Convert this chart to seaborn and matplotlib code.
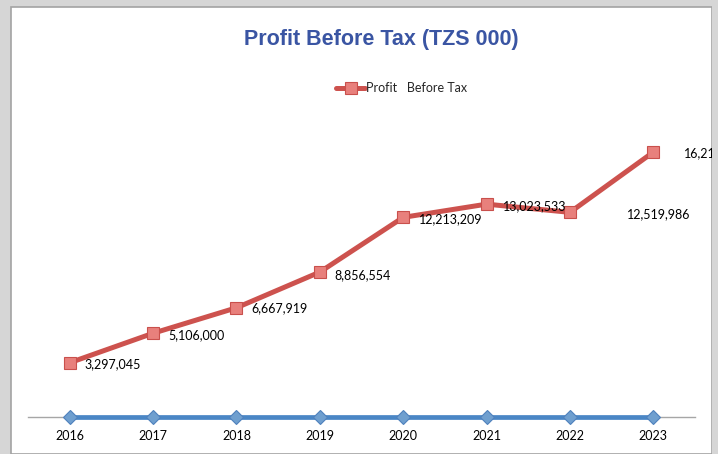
import seaborn as sns
from matplotlib import pyplot as plt
from matplotlib.patches import Rectangle
import pandas as pd

years = ['2016', '2017', '2018', '2019', '2020', '2021', '2022', '2023']
profit = [3297045, 5106000, 6667919, 8856554, 12213209, 13023533, 12519986, 16215000]
baseline = [0, 0, 0, 0, 0, 0, 0, 0]
legend_label = 'Profit   Before Tax'
title = 'Profit Before Tax (TZS 000)'

df = pd.DataFrame({'Year': years, 'Profit': profit, 'Base': baseline})

sns.set_style('white')
plt.rcParams['font.family'] = ['Lato', 'DejaVu Sans']

fig = plt.figure(figsize=(7.18, 4.54), dpi=100, facecolor='#d6d6d6')
W, H = 718, 454

# white chart area with thin border, like the screenshot
fig.patches.append(Rectangle((11 / W, 0), (712 - 11) / W, (H - 7) / H,
                             transform=fig.transFigure, facecolor='white',
                             edgecolor='#a3a3a3', linewidth=1.2, zorder=-5))

ax = fig.add_axes([28 / W, (H - 416.5) / H, (695 - 28) / W, (416.5 - 123) / H])
ax.set_facecolor('none')

# zero series along the axis
sns.lineplot(data=df, x='Year', y='Base', ax=ax, color='#4a86c5', linewidth=3.4,
             marker='D', markersize=6.8, markerfacecolor='#6f9fcf',
             markeredgecolor='#4f81bd', markeredgewidth=0.8, clip_on=False,
             legend=False, zorder=3)
sns.lineplot(data=df, x='Year', y='Profit', ax=ax, color='#cd524e', linewidth=3.6,
             marker='s', markersize=9, markerfacecolor='#e8807c',
             markeredgecolor='#c9504c', markeredgewidth=0.8, clip_on=False,
             legend=False, zorder=4)

# data labels (Excel-style, right of points)
offsets = [(15, -1), (15, -2), (15, 0), (15, -3), (16, -2), (16, -2), (57, -2), (31, -1)]
for i, (v, off) in enumerate(zip(profit, offsets)):
    ax.annotate(f'{v:,}', xy=(i, v), xytext=off, textcoords='offset pixels',
                ha='left', va='center', fontsize=9, color='black', zorder=5)

ax.set_xlim(-0.5, 7.5)
ax.set_ylim(0, 18e6)
ax.set_xlabel('')
ax.set_ylabel('')
ax.set_yticks([])
for s in ['top', 'right', 'left']:
    ax.spines[s].set_visible(False)
ax.spines['bottom'].set_color('#a6a6a6')
ax.spines['bottom'].set_linewidth(1)
ax.tick_params(axis='x', length=0, pad=10, labelsize=9, colors='black')

fig.text(381 / W, 1 - 39 / H, title, ha='center', va='center', fontsize=15.5,
         fontweight='bold', color='#3a55a3', family='Liberation Sans')

fig.legend(handles=[ax.lines[1]], labels=[legend_label], loc='center',
           bbox_to_anchor=(402 / W, 1 - 88 / H), frameon=False, fontsize=9,
           handlelength=2.3, handletextpad=0.1)

# right edge strip hides the clipped last label
fig.add_artist(Rectangle((712 / W, 0), 6 / W, 1, transform=fig.transFigure,
                         facecolor='#d6d6d6', edgecolor='none', zorder=10))

plt.savefig('out.png', dpi=100)
